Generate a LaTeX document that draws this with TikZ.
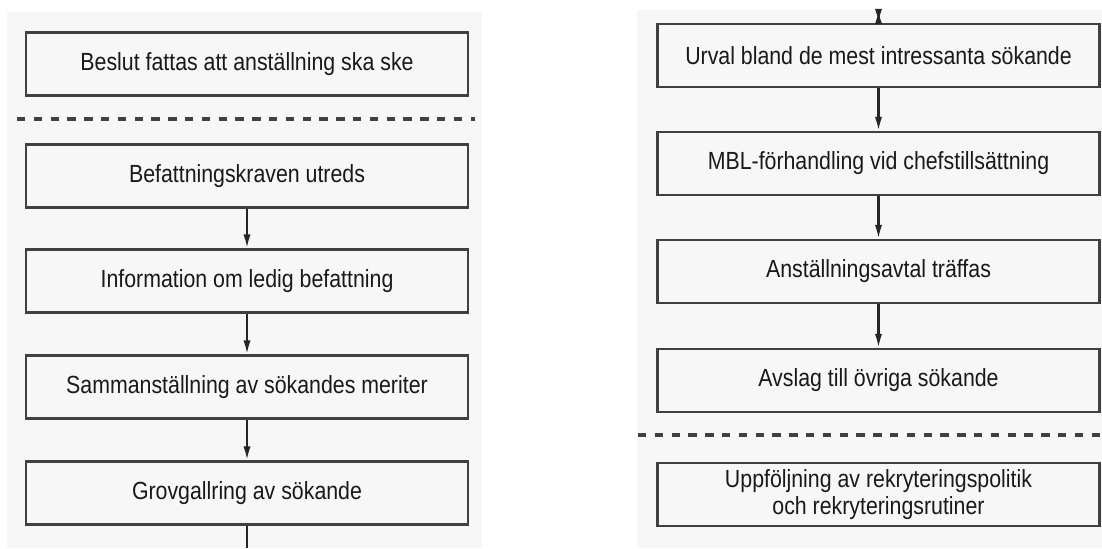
\documentclass[tikz,border=0pt]{standalone}
\usepackage{fontspec}
\setmainfont{Liberation Sans}[FakeStretch=0.86]
\usetikzlibrary{positioning, arrows.meta}

\begin{document}
\begin{tikzpicture}
	[x=0.5pt, y=-0.5pt, on grid, >={Latex[length=7pt,width=3.6pt]},
	 stage/.style={draw=black!75, line width=1.1pt, minimum width=221pt, minimum height=31.5pt,
	   inner sep=0pt, font=\fontsize{12.4pt}{13.5pt}\selectfont, text=black!90, align=center},
	 phase/.style={draw=black!75, line width=1.6pt, dash pattern=on 4.2pt off 4.2pt},
	 link/.style={draw=black!85, line width=1.1pt}]
   \fill[white] (0,0) rectangle (1102,548);
   \useasboundingbox (0,0) rectangle (1102,548);
   \fill[black!3] (7,12) rectangle (482,548);
   \fill[black!3] (637,10) rectangle (1102,548);
   % left column
   \node[stage] (beslut) at (247,64) {Beslut fattas att anställning ska ske};
   \node[stage] (krav) [below=56pt of beslut] {Befattningskraven utreds};
   \node[stage] (info) [below=52.5pt of krav] {Information om ledig befattning};
   \node[stage] (meriter) [below=53pt of info] {Sammanställning av sökandes meriter};
   \node[stage] (grov) [below=53pt of meriter] {Grovgallring av sökande};
   \coordinate (vidare) at (247,548);
   % right column
   \coordinate (fran) at (878.5,10);
   \node[stage] (urval) at (878.5,55.5) {Urval bland de mest intressanta sökande};
   \node[stage] (mbl) [below=54pt of urval] {MBL-förhandling vid chefstillsättning};
   \node[stage] (avtal) [below=54pt of mbl] {Anställningsavtal träffas};
   \node[stage] (avslag) [below=54.5pt of avtal] {Avslag till övriga sökande};
   \node[stage] (uppf) [below=57pt of avslag] {Uppföljning av rekryteringspolitik\\och rekryteringsrutiner};
   % phase borders
   \draw[phase] (17,119) -- (475,119);
   \draw[phase] (638,435) -- (1102,435);
    \path[link, ->] 
    (krav) edge (info)
    (info) edge (meriter)
    (meriter) edge (grov)
    (fran) edge (urval)
    (urval) edge (mbl)
    (mbl) edge (avtal)
    (avtal) edge (avslag);
    \draw[link] (grov) -- (vidare);
\end{tikzpicture}
\end{document}
